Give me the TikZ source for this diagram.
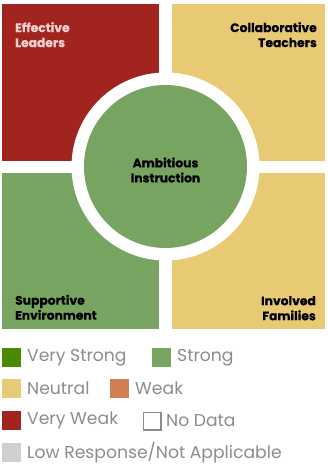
\documentclass[tikz,border=0pt]{standalone}
\usepackage{fontspec}
\setmainfont{Poppins}
\newfontfamily\heavyfont[BoldFeatures={FakeBold=0.6}]{Poppins}
\definecolor{vstrong}{HTML}{4A8A00}
\definecolor{strong}{HTML}{78A462}
\definecolor{neutral}{HTML}{E8CA75}
\definecolor{weak}{HTML}{D17E50}
\definecolor{vweak}{HTML}{A1241F}
\definecolor{lowresp}{HTML}{D0D0D0}
\definecolor{legtext}{HTML}{8C8C8C}
\definecolor{pinktext}{HTML}{F5CFCF}
\begin{document}
\begin{tikzpicture}[x=1pt,y=-1pt,
  lbl/.style={inner sep=0pt, font=\fontsize{12.3}{15}\heavyfont\bfseries},
  swatch/.style={rectangle, inner sep=0pt, minimum size=19pt, anchor=north west},
  legtxt/.style={inner sep=0pt, anchor=west, text=legtext, font=\fontsize{17.2}{17.2}\selectfont}]
\useasboundingbox (0,0) rectangle (327,468);
\fill[vweak] (2,4) rectangle (159,161);
\fill[neutral] (172,4) rectangle (325,161);
\fill[strong] (2,173) rectangle (159,329);
\fill[neutral] (172,173) rectangle (325,329);
\fill[white] (165.5,166.5) circle (94);
\fill[strong] (165.5,166.5) circle (81.5);
\node[lbl, anchor=north west, align=left, text=pinktext] (el) at (15,22) {Effective\\Leaders};
\node[lbl, anchor=north east, align=right] (ct) at (317,22) {Collaborative\\Teachers};
\node[lbl, align=center] (ai) at (165.5,170) {Ambitious\\Instruction};
\node[lbl, anchor=south west, align=left] (se) at (15,320) {Supportive\\Environment};
\node[lbl, anchor=south east, align=right] (if) at (316,320.5) {Involved\\Families};
% legend
\node[swatch, fill=vstrong] (s1) at (2,348) {};
\node[legtxt] (t1) at (27,357.5) {Very Strong};
\node[swatch, fill=strong] (s2) at (152,348) {};
\node[legtxt] (t2) at (177,357.5) {Strong};
\node[swatch, fill=neutral] (s3) at (2,379) {};
\node[legtxt] (t3) at (27,388.5) {Neutral};
\node[swatch, fill=weak] (s4) at (110,379) {};
\node[legtxt] (t4) at (135,388.5) {Weak};
\node[swatch, fill=vweak] (s5) at (2,411) {};
\node[legtxt] (t5) at (27,420.5) {Very Weak};
\node[swatch, draw=legtext, line width=1.6pt, minimum size=17.4pt] (s6) at (142.8,411.8) {};
\node[legtxt] (t6) at (166,420.5) {No Data};
\node[swatch, fill=lowresp] (s7) at (2,443) {};
\node[legtxt] (t7) at (27,452.5) {Low Response/Not Applicable};
\end{tikzpicture}
\end{document}
